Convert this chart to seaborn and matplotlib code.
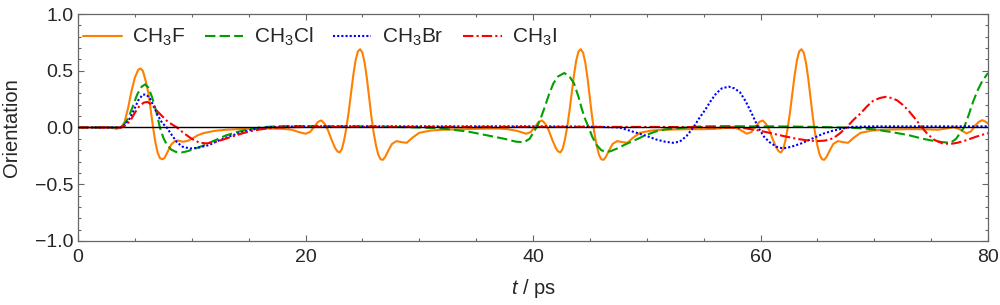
import numpy as np
import pandas as pd
import matplotlib
matplotlib.use("Agg")
import matplotlib.pyplot as plt
from matplotlib.ticker import MultipleLocator
import seaborn as sns

# CH3F (solid orange)
t_f = [0, 1, 2, 2.8, 3.4, 3.8, 4.1, 4.4, 4.7, 5.0, 5.3, 5.5, 5.7, 5.95, 6.2, 6.4, 6.6, 6.8, 7.0, 7.2,
       7.4, 7.6, 7.9, 8.2, 8.5, 8.8, 9.2, 9.6, 10.0, 10.5, 11.0, 12.0, 13.0, 14.0, 15.0, 16.0, 17.0, 18.0,
       18.8, 19.4, 20.0, 20.4, 20.8, 21.1, 21.4, 21.7, 22.0, 22.3, 22.6, 22.8, 23.0, 23.2, 23.4, 23.6,
       23.8, 24.0, 24.2, 24.4, 24.6, 24.8, 25.0, 25.2, 25.4, 25.6, 25.8, 26.0, 26.2, 26.4, 26.6, 26.8,
       27.0, 27.3, 27.6, 28.0, 28.5, 28.9, 29.4, 30.0, 31.0, 32.0, 33.0, 34.0, 35.0, 36.0, 37.0, 37.8,
       38.6, 39.4, 39.8, 40.2, 40.5, 40.8, 41.1, 41.4, 41.7, 42.0, 42.2, 42.4, 42.6, 42.8, 43.0, 43.2,
       43.4, 43.6, 43.8, 44.0, 44.2, 44.4, 44.6, 44.8, 45.0, 45.2, 45.4, 45.6, 45.8, 46.0, 46.2, 46.4,
       46.7, 47.0, 47.4, 47.9, 48.3, 48.8, 49.4, 50.4, 51.4, 52.5, 54.0, 55.0, 56.0, 56.8, 57.6, 58.2,
       58.8, 59.2, 59.6, 59.9, 60.2, 60.5, 60.8, 61.1, 61.4, 61.6, 61.8, 62.0, 62.2, 62.4, 62.6, 62.8,
       63.0, 63.2, 63.4, 63.6, 63.8, 64.0, 64.2, 64.4, 64.6, 64.8, 65.0, 65.2, 65.4, 65.6, 65.8, 66.1,
       66.4, 66.8, 67.3, 67.7, 68.2, 68.8, 69.8, 70.8, 71.8, 72.8, 73.8, 74.8, 75.6, 76.3, 77.0, 77.6,
       78.1, 78.5, 78.9, 79.2, 79.5, 79.8, 80.0]
v_f = [0, 0, 0, 0, -0.012, 0.0, 0.05, 0.17, 0.32, 0.44, 0.51, 0.52, 0.50, 0.41, 0.30, 0.15, 0.0, -0.13, -0.22, -0.27,
       -0.28, -0.27, -0.21, -0.15, -0.12, -0.115, -0.125, -0.12, -0.10, -0.07, -0.05, -0.03, -0.02, -0.015, -0.012, -0.01, -0.01, -0.012,
       -0.02, -0.04, -0.055, -0.04, 0.01, 0.05, 0.062, 0.03, -0.03, -0.11, -0.18, -0.21, -0.22, -0.19, -0.11, 0.0,
       0.14, 0.30, 0.46, 0.59, 0.67, 0.69, 0.66, 0.57, 0.43, 0.26, 0.09, -0.05, -0.16, -0.24, -0.28, -0.285,
       -0.26, -0.20, -0.145, -0.12, -0.13, -0.135, -0.09, -0.047, -0.027, -0.02, -0.017, -0.015, -0.012, -0.01, -0.01, -0.015,
       -0.03, -0.055, -0.04, 0.01, 0.05, 0.062, 0.03, -0.03, -0.11, -0.18, -0.21, -0.22, -0.19, -0.11, 0.0, 0.14,
       0.30, 0.46, 0.59, 0.67, 0.69, 0.66, 0.57, 0.43, 0.26, 0.09, -0.05, -0.16, -0.24, -0.28, -0.285, -0.26,
       -0.20, -0.145, -0.12, -0.13, -0.135, -0.09, -0.047, -0.027, -0.02, -0.017, -0.015, -0.015, -0.012, -0.005, 0.005, -0.02,
       -0.055, -0.04, 0.01, 0.05, 0.062, 0.03, -0.03, -0.11, -0.18, -0.21, -0.22, -0.19, -0.11, 0.0, 0.14, 0.30,
       0.46, 0.59, 0.67, 0.69, 0.66, 0.57, 0.43, 0.26, 0.09, -0.05, -0.16, -0.24, -0.28, -0.285, -0.26, -0.20,
       -0.145, -0.12, -0.13, -0.135, -0.09, -0.047, -0.027, -0.02, -0.017, -0.015, -0.015, -0.017, -0.02, -0.01, 0.003, -0.02,
       -0.052, -0.035, 0.02, 0.05, 0.065, 0.05, 0.035]

# CH3Cl (dashed green)
t_cl = [0, 1, 2, 3, 3.6, 4.0, 4.4, 4.8, 5.2, 5.6, 5.9, 6.2, 6.5, 6.8, 7.0, 7.2, 7.5, 7.8, 8.2, 8.6,
        9.1, 9.6, 10.2, 11.0, 12.0, 13.0, 14.0, 15.0, 16.0, 17.0, 18.5, 20, 22, 24, 26, 28, 30, 31.5,
        33, 34.5, 36, 37.5, 38.5, 39.2, 39.7, 40.0, 40.3, 40.6, 41.0, 41.4, 41.8, 42.2, 42.75, 43.2,
        43.6, 44.0, 44.3, 44.6, 44.9, 45.2, 45.6, 46.0, 46.4, 46.8, 47.4, 48.1, 49.0, 49.9, 50.8, 51.6,
        53, 54, 55, 57, 59, 61, 63, 65, 67, 68.5, 70, 71.5, 73, 74.3, 75.3, 76.1, 76.7, 77.2, 77.6,
        77.9, 78.3, 78.7, 79.1, 79.5, 80.0]
v_cl = [0, 0, 0, 0, 0.0, 0.02, 0.08, 0.18, 0.29, 0.36, 0.38, 0.35, 0.27, 0.17, 0.09, 0.0, -0.09, -0.15, -0.195, -0.215,
        -0.22, -0.21, -0.19, -0.16, -0.115, -0.07, -0.04, -0.015, 0.0, 0.008, 0.012, 0.012, 0.01, 0.01, 0.008, 0.005, 0.0, -0.005,
        -0.02, -0.04, -0.07, -0.10, -0.125, -0.13, -0.10, -0.05, 0.0, 0.06, 0.17, 0.29, 0.39, 0.45, 0.48, 0.45,
        0.39, 0.27, 0.16, 0.07, 0.0, -0.08, -0.155, -0.20, -0.215, -0.21, -0.185, -0.15, -0.11, -0.067, -0.035, -0.017,
        -0.005, 0.005, 0.01, 0.012, 0.01, 0.01, 0.008, 0.005, 0.0, -0.005, -0.017, -0.04, -0.067, -0.10, -0.12, -0.13, -0.135, -0.10, -0.04,
        0.0, 0.11, 0.23, 0.33, 0.41, 0.48]

# CH3Br (dotted blue)
t_br = [0, 1, 2, 3, 3.7, 4.1, 4.5, 4.9, 5.3, 5.7, 6.0, 6.3, 6.7, 7.0, 7.4, 7.8, 8.2, 8.7, 9.2, 9.85,
        10.5, 11.5, 12.5, 13.4, 14.5, 15.5, 16.5, 18, 20, 25, 30, 35, 40, 44, 46, 47.6, 48.4, 49.2, 50.0,
        50.8, 51.6, 52.3, 52.9, 53.5, 54.1, 54.6, 55.1, 55.6, 56.1, 56.6, 57.2, 57.7, 58.2, 58.7, 59.2,
        59.8, 60.3, 60.8, 61.4, 62.0, 62.7, 63.6, 64.5, 65.5, 66.3, 67.2, 68.0, 70, 75, 80]
v_br = [0, 0, 0, 0, 0.0, 0.02, 0.07, 0.15, 0.24, 0.29, 0.29, 0.26, 0.18, 0.11, 0.04, 0.0, -0.06, -0.13, -0.17, -0.185,
        -0.18, -0.155, -0.11, -0.075, -0.04, -0.015, 0.0, 0.008, 0.01, 0.01, 0.01, 0.01, 0.01, 0.008, 0.005, 0.0, -0.025, -0.05, -0.075,
        -0.105, -0.125, -0.135, -0.125, -0.075, 0.0, 0.08, 0.15, 0.23, 0.30, 0.345, 0.36, 0.345, 0.31, 0.23, 0.13,
        0.0, -0.08, -0.13, -0.17, -0.185, -0.17, -0.14, -0.10, -0.055, -0.03, -0.01, 0.005, 0.01, 0.01, 0.01]

# CH3I (dash-dot red)
t_i = [0, 1, 2, 3, 3.8, 4.2, 4.6, 5.0, 5.4, 5.8, 6.1, 6.5, 7.0, 7.4, 7.9, 8.7, 9.3, 10.0, 10.7, 11.3,
       12.0, 12.8, 13.4, 14.5, 15.5, 16.5, 17.5, 20, 30, 40, 50, 55, 57, 58.5, 59.5, 60.8, 62.0, 63.2, 64.2,
       65.0, 65.7, 66.4, 67.0, 67.6, 68.2, 68.8, 69.4, 69.9, 70.5, 71.0, 71.5, 72.0, 72.5, 73.0, 73.5,
       74.2, 74.7, 75.3, 76.0, 76.7, 77.3, 78.0, 78.7, 79.4, 80]
v_i = [0, 0, 0, 0, 0.0, 0.02, 0.06, 0.13, 0.19, 0.22, 0.225, 0.20, 0.14, 0.10, 0.05, 0.0, -0.05, -0.10, -0.135, -0.14,
       -0.13, -0.105, -0.085, -0.05, -0.025, -0.01, 0.0, 0.005, 0.005, 0.005, 0.005, 0.003, 0.0, -0.005, -0.02, -0.047, -0.075, -0.10, -0.115,
       -0.12, -0.115, -0.095, -0.05, 0.005, 0.07, 0.125, 0.19, 0.235, 0.26, 0.27, 0.26, 0.24, 0.20, 0.15, 0.09,
       0.0, -0.06, -0.11, -0.14, -0.145, -0.135, -0.115, -0.09, -0.067, -0.05]

labels = ['CH$_3$F', 'CH$_3$Cl', 'CH$_3$Br', 'CH$_3$I']
colors = ['#ff8000', '#00a000', '#0000ff', '#ff0000']
styles = ['-', (0, (5, 2)), (0, (1, 1)), (0, (5, 1.5, 1, 1.5))]

sns.set_style('ticks')
plt.rcParams['font.family'] = ['Liberation Sans', 'DejaVu Sans']
plt.rcParams['mathtext.fontset'] = 'custom'
plt.rcParams['mathtext.rm'] = 'Liberation Sans'
plt.rcParams['mathtext.it'] = 'Liberation Sans:italic'
plt.rcParams['mathtext.default'] = 'regular'

fig = plt.figure(figsize=(10, 3.05), dpi=100)
ax = fig.add_axes([0.078, 0.21, 0.91, 0.744])

series = [(t_f, v_f), (t_cl, v_cl), (t_br, v_br), (t_i, v_i)]
for (t, v), lab, c, ls in zip(series, labels, colors, styles):
    df = pd.DataFrame({'t': t, 'v': v})
    sns.lineplot(data=df, x='t', y='v', ax=ax, color=c, linestyle=ls, lw=1.5, label=lab)

ax.axhline(0, color='black', lw=1, zorder=3)

ax.set_xlim(0, 80)
ax.set_ylim(-1, 1)
ax.xaxis.set_major_locator(MultipleLocator(20))
ax.xaxis.set_minor_locator(MultipleLocator(5))
ax.yaxis.set_major_locator(MultipleLocator(0.5))
ax.yaxis.set_minor_locator(MultipleLocator(0.1))
ax.yaxis.set_major_formatter(plt.FuncFormatter(lambda y, p: f'{y:.1f}'.replace('-', '\u2212')))
ax.tick_params(which='both', direction='in', top=True, right=True, color='#666666', labelsize=14)
ax.tick_params(which='major', length=4.5, width=0.8)
ax.tick_params(axis='y', which='major', pad=3)
ax.tick_params(axis='x', which='major', pad=6)
ax.tick_params(which='minor', length=2.5, width=0.8)
for s in ax.spines.values():
    s.set_color('#666666')
    s.set_linewidth(0.9)

ax.set_xlabel('$\\mathit{t}$ / ps', fontsize=14.5, labelpad=8)
ax.set_ylabel('Orientation', fontsize=14.5, labelpad=10)

ax.legend(loc='center left', bbox_to_anchor=(0.0055, 0.899), ncol=4, frameon=False, fontsize=15,
          handlelength=1.85, handletextpad=0.5, columnspacing=0.95, borderaxespad=0, borderpad=0)

fig.savefig('out.png', dpi=100)
